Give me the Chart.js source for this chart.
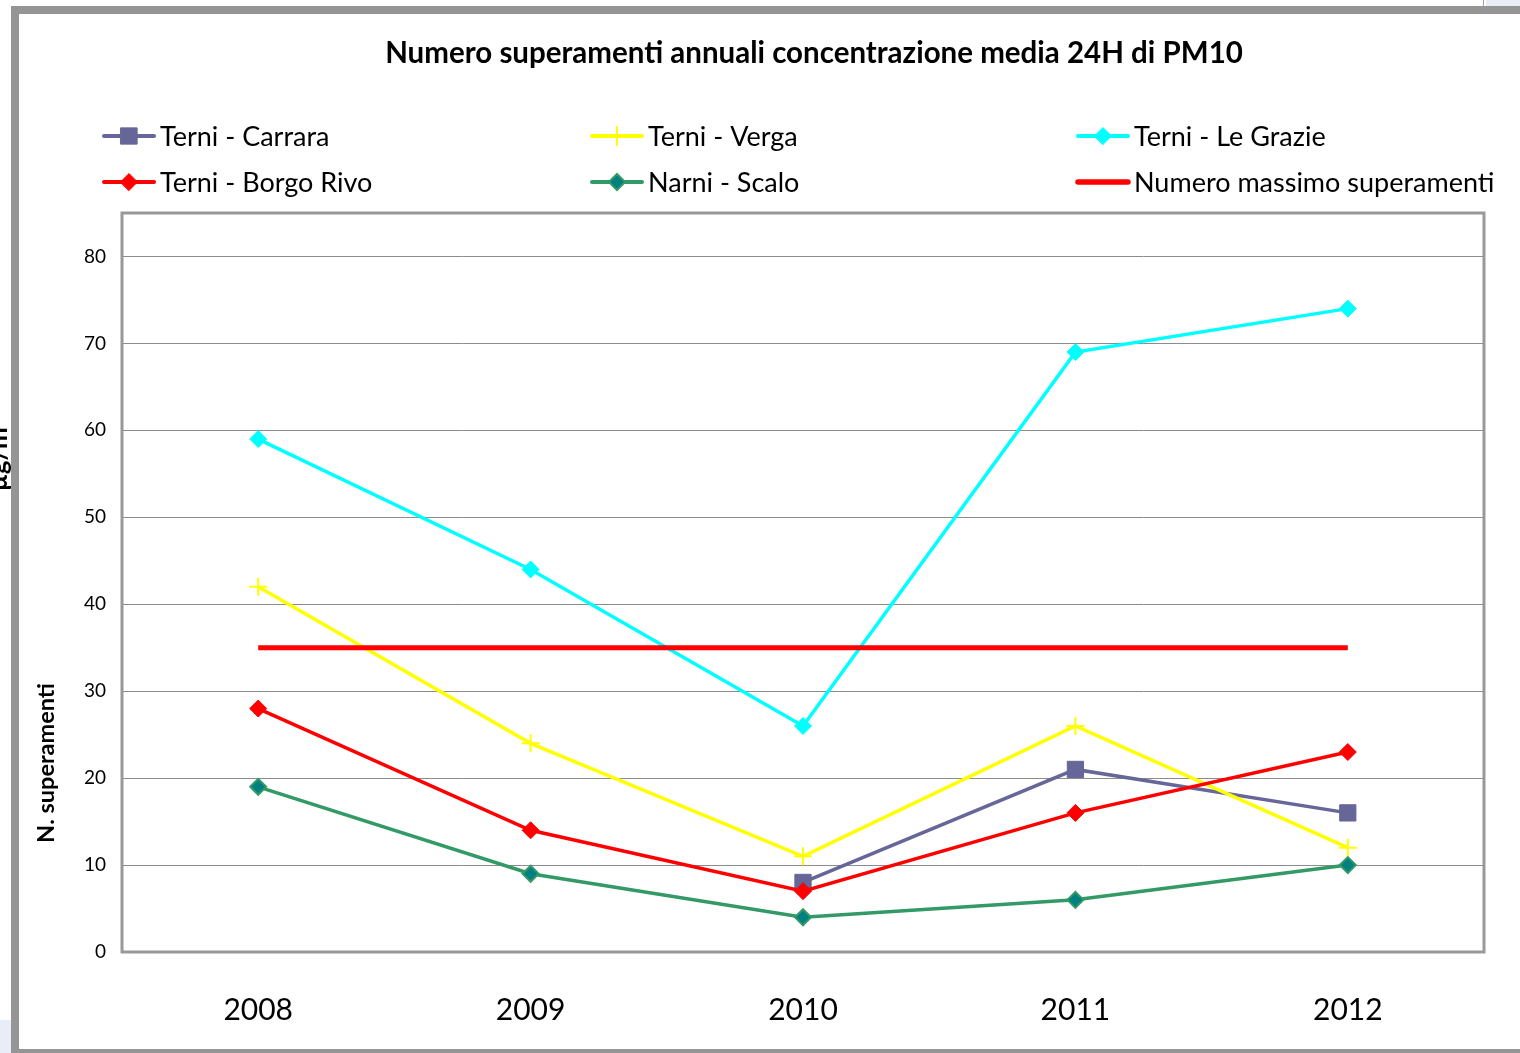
<!DOCTYPE html>
<html>
<head>
<meta charset="utf-8">
<script src="https://cdn.jsdelivr.net/npm/chart.js@4.4.1/dist/chart.umd.min.js"></script>
<style>
    html, body { margin: 0; padding: 0; background: #fff; overflow: hidden; }
    #chart { position: absolute; left: 0; top: 0; }
</style>
</head>
<body>
<canvas id="chart" width="1520" height="1053"></canvas>
<script>
// data
const years = ['2008', '2009', '2010', '2011', '2012'];
const yTicks = [0, 10, 20, 30, 40, 50, 60, 70, 80];
const carrara = [null, null, 8, 21, 16];
const verga = [42, 24, 11, 26, 12];
const leGrazie = [59, 44, 26, 69, 74];
const borgoRivo = [28, 14, 7, 16, 23];
const narniScalo = [19, 9, 4, 6, 10];
const limite = [35, 35, 35, 35, 35];

const FONT = 'Lato, "Open Sans", sans-serif';

function lineSet(label, data, color, style, extra) {
    return Object.assign({
        label: label,
        data: data,
        borderColor: color,
        backgroundColor: color,
        borderWidth: 3.5,
        tension: 0,
        fill: false,
        pointStyle: style,
        pointRadius: 8.5,
        pointHoverRadius: 8.5,
        pointBackgroundColor: color,
        pointBorderColor: color,
        pointBorderWidth: 1
    }, extra || {});
}

const datasets = [
    lineSet('Terni - Carrara', carrara, '#666699', 'rect', { pointRadius: 11.5, order: 6 }),
    lineSet('Terni - Verga', verga, '#FFFF00', 'cross', { pointRadius: 9, pointBorderWidth: 2, order: 5 }),
    lineSet('Terni - Le Grazie', leGrazie, '#00FFFF', 'rectRot', { order: 4 }),
    lineSet('Terni - Borgo Rivo', borgoRivo, '#FF0000', 'rectRot', { order: 3 }),
    lineSet('Narni - Scalo', narniScalo, '#339966', 'rectRot', {
        pointRadius: 8, pointBackgroundColor: '#008080', pointBorderColor: '#339966', pointBorderWidth: 2, order: 2
    }),
    lineSet('Numero massimo superamenti', limite, '#FF0000', false, { borderWidth: 5, pointRadius: 0, order: 1 })
];

// title, legend, axis titles and the outer frame
const decorations = {
    id: 'decorations',
    beforeDatasetsDraw(chart) {
        const ctx = chart.ctx;
        const a = chart.chartArea;
        ctx.save();
        ctx.strokeStyle = '#999999';
        ctx.lineWidth = 3;
        ctx.strokeRect(a.left, a.top, a.right - a.left, a.bottom - a.top);
        ctx.restore();
    },
    afterDraw(chart) {
        const ctx = chart.ctx;
        ctx.save();

        // title
        ctx.fillStyle = '#000';
        ctx.font = 'bold 29.5px ' + FONT;
        ctx.textAlign = 'center';
        ctx.textBaseline = 'middle';
        ctx.fillText('Numero superamenti annuali concentrazione media 24H di PM10', 814, 53);

        // legend, 3 columns x 2 rows
        const cols = [102, 590, 1076];
        const rows = [136, 182];
        ctx.font = '27px ' + FONT;
        ctx.textAlign = 'left';
        chart.data.datasets.forEach((ds, i) => {
            const x = cols[i % 3];
            const y = rows[Math.floor(i / 3)];
            ctx.strokeStyle = ds.borderColor;
            ctx.lineWidth = ds.borderWidth + 0.5;
            ctx.lineCap = 'round';
            ctx.beginPath();
            ctx.moveTo(x + 2, y);
            ctx.lineTo(x + 52, y);
            ctx.stroke();
            if (ds.pointStyle) {
                ctx.fillStyle = ds.pointBackgroundColor;
                ctx.strokeStyle = ds.pointBorderColor;
                ctx.lineWidth = ds.pointBorderWidth;
                Chart.helpers.drawPoint(ctx, {
                    pointStyle: ds.pointStyle,
                    radius: ds.pointRadius,
                    borderWidth: ds.pointBorderWidth,
                    rotation: 0
                }, x + 27, y);
            }
            ctx.fillStyle = '#000';
            ctx.fillText(ds.label, x + 58, y + 1);
        });

        // y axis title
        ctx.font = 'bold 23.5px ' + FONT;
        ctx.textAlign = 'center';
        ctx.translate(46, 763);
        ctx.rotate(-Math.PI / 2);
        ctx.fillText('N. superamenti', 0, 0);
        ctx.setTransform(1, 0, 0, 1, 0, 0);

        // unit label cut off by the frame
        ctx.font = 'bold 26px ' + FONT;
        ctx.textBaseline = 'alphabetic';
        ctx.translate(7, 455);
        ctx.rotate(-Math.PI / 2);
        ctx.fillText('\u00b5g/m\u00b3', 0, 0);
        ctx.setTransform(1, 0, 0, 1, 0, 0);

        // outer frame
        ctx.fillStyle = '#959595';
        ctx.fillRect(11, 6, 1509, 8);
        ctx.fillRect(11, 6, 8, 1047);
        ctx.fillRect(11, 1049, 1509, 4);
        ctx.fillStyle = '#e9eef6';
        ctx.fillRect(0, 1020, 11, 33);
        ctx.fillRect(1486, 0, 34, 6);
        ctx.fillStyle = '#a0a0a0';
        ctx.fillRect(1483, 0, 1, 6);
        ctx.restore();
    }
};

new Chart(document.getElementById('chart'), {
    type: 'line',
    data: { labels: years, datasets: datasets },
    options: {
        responsive: false,
        animation: false,
        events: [],
        layout: { padding: { left: 0, top: 213, right: 36, bottom: 0 } },
        plugins: {
            legend: { display: false },
            title: { display: false },
            tooltip: { enabled: false }
        },
        scales: {
            x: {
                offset: true,
                afterFit: (s) => { s.height = 101; },
                grid: { display: false, drawTicks: false },
                border: { display: false },
                ticks: {
                    padding: 40,
                    color: '#000',
                    font: { family: FONT, size: 30 }
                }
            },
            y: {
                min: 0,
                max: 85,
                afterFit: (s) => { s.width = 122; },
                afterBuildTicks: (s) => { s.ticks = yTicks.map(v => ({ value: v })); },
                grid: { color: '#8c8c8c', lineWidth: 1, drawTicks: false },
                border: { display: false },
                ticks: {
                    padding: 16,
                    color: '#000',
                    font: { family: FONT, size: 19 }
                }
            }
        }
    },
    plugins: [decorations]
});
</script>
</body>
</html>
